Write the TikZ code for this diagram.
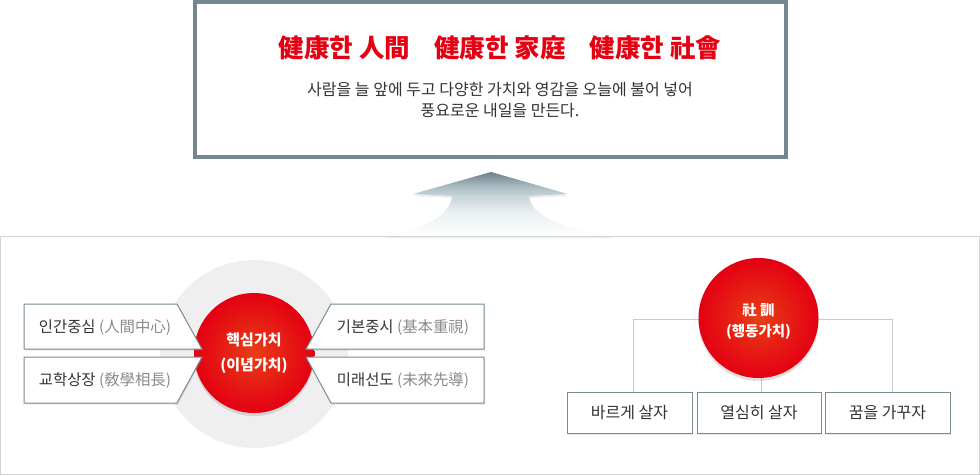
\documentclass[tikz,border=0pt]{standalone}
\usepackage{fontspec}
\setmainfont{Noto Sans CJK KR}
\usetikzlibrary{shadows}
\definecolor{frameblue}{RGB}{117,135,142}
\definecolor{titlered}{RGB}{228,0,18}
\definecolor{txtdark}{RGB}{51,51,51}
\definecolor{parengray}{RGB}{138,138,138}
\definecolor{halogray}{RGB}{239,239,239}
\definecolor{boxgray}{RGB}{122,139,146}
\definecolor{conngray}{RGB}{197,205,208}
\definecolor{panelgray}{RGB}{212,212,212}
\definecolor{arrowtop}{RGB}{108,126,134}
\definecolor{arrowhi}{RGB}{165,183,190}
\definecolor{arrowmid}{RGB}{200,213,218}
\definecolor{arrowlow}{RGB}{234,240,242}
\definecolor{coreinner}{RGB}{232,62,22}
\definecolor{coreouter}{RGB}{228,0,18}
\pgfdeclareverticalshading{arrowshade}{100bp}{color(0bp)=(white); color(25bp)=(white); color(43.75bp)=(arrowlow); color(56.25bp)=(arrowmid); color(64.8bp)=(arrowhi); color(75bp)=(arrowtop); color(100bp)=(arrowtop)}
\begin{document}
\begin{tikzpicture}[x=1pt,y=-1pt,
  boxline/.style={draw=boxgray, line width=1pt, fill=white,
    drop shadow={shadow xshift=1pt, shadow yshift=-1.5pt, opacity=0.18}},
  redball/.style={circle, inner sep=0pt, minimum size=120pt,
    shading=radial, inner color=coreinner, outer color=coreouter,
    drop shadow={shadow xshift=0pt, shadow yshift=-3pt, opacity=0.25}},
  balltext/.style={text=white, align=center, font=\bfseries\fontsize{15}{25}\selectfont},
  valtext/.style={text=txtdark, font=\fontsize{15.4}{18}\selectfont},
  mottobox/.style={draw=boxgray, line width=1pt, fill=white, minimum height=41pt,
    inner sep=0pt, text=txtdark, font=\fontsize{16}{18}\selectfont,
    drop shadow={shadow xshift=1pt, shadow yshift=-1.5pt, opacity=0.18}},
  conn/.style={draw=conngray, line width=1pt}
]
\useasboundingbox (0,0) rectangle (980,475);

% top box
\node[draw=frameblue, line width=4pt, fill=white, minimum width=591pt, minimum height=155pt, inner sep=0pt] (top) at (490.5,79.5) {};
\node[text=titlered, font=\bfseries\fontsize{25.5}{28}\selectfont] (title) at (500,48)
  {健康한 人間\hspace*{0.95em}健康한 家庭\hspace*{0.95em}健康한 社會};
\node[text=txtdark, align=center, font=\fontsize{16}{20.5}\selectfont] (sub) at (500,100)
  {사람을 늘 앞에 두고 다양한 가치와 영감을 오늘에 불어 넣어\\풍요로운 내일을 만든다.};

% lower panel
\draw[panelgray, line width=1pt] (0.5,236.5) rectangle (979.5,474.5);

% arrow
\shade[shading=arrowshade,
  drop shadow={shadow xshift=0pt, shadow yshift=-2pt, opacity=0.15}]
  (491,172) -- (413,194) -- (452,196)
  .. controls (450,216) and (425,229) .. (383,236)
  -- (615,236)
  .. controls (562,229) and (531,216) .. (529,196)
  -- (568,194) -- cycle;
\draw[panelgray, line width=1pt] (380,236.5) -- (620,236.5);

% left: core values
\node[circle, fill=halogray, minimum size=188pt, inner sep=0pt] (halo) at (254,354) {};
\fill[coreouter] (194,351) rectangle (315,356);
\node[redball] (core) at (254,353) {};
\path[boxline] (24,304) -- (177,304) -- (202,349) -- (24,349) -- cycle;
\path[boxline] (24,357) -- (202,357) -- (177,403) -- (24,403) -- cycle;
\path[boxline] (484,304) -- (331,304) -- (306,349) -- (484,349) -- cycle;
\path[boxline] (484,357) -- (306,357) -- (331,403) -- (484,403) -- cycle;
\node[balltext] (coretext) at (254,353) {핵심가치\\(이념가치)};
\node[valtext] (v1) at (105,328) {인간중심 \textcolor{parengray}{(人間中心)}};
\node[valtext] (v2) at (105,381) {교학상장 \textcolor{parengray}{(敎學相長)}};
\node[valtext] (v3) at (403,328) {기본중시 \textcolor{parengray}{(基本重視)}};
\node[valtext] (v4) at (403,381) {미래선도 \textcolor{parengray}{(未來先導)}};

% right: motto
\coordinate (c1) at (633,319);
\coordinate (c3) at (892,319);
\node[mottobox, minimum width=125pt] (b1) at (629.5,412.5) {바르게 살자};
\node[mottobox, minimum width=124pt] (b2) at (759,412.5) {열심히 살자};
\node[mottobox, minimum width=125pt] (b3) at (887.5,412.5) {꿈을 가꾸자};
\draw[conn] (c1) -- (c3);
\draw[conn] (c1) -- (c1 |- b1.north);
\draw[conn] (c3) -- (c3 |- b3.north);
\draw[conn] (761,360) -- (761,392);
\node[redball] (sh) at (758.5,318) {};
\node[balltext, font=\bfseries\fontsize{14.5}{21}\selectfont] (shtext) at (758.5,321) {社 訓\\(행동가치)};
\end{tikzpicture}
\end{document}
